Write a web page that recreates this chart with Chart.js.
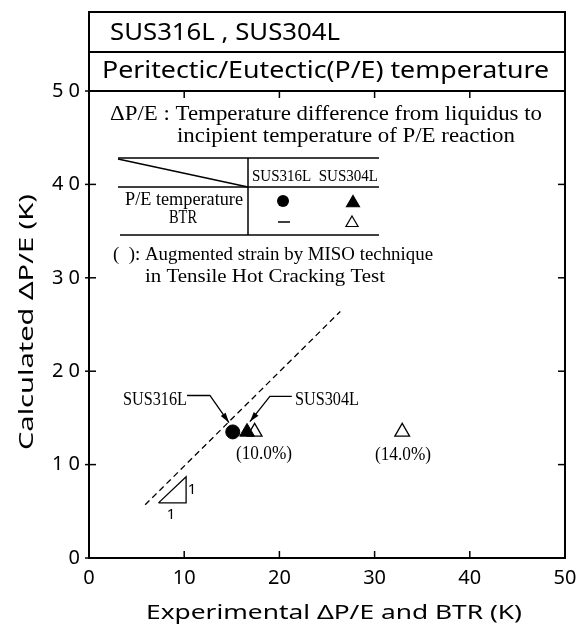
<!DOCTYPE html>
<html>
<head>
<meta charset="utf-8">
<script src="https://cdn.jsdelivr.net/npm/chart.js@4.4.0/dist/chart.umd.min.js"></script>
<style>
  html, body { margin: 0; padding: 0; background: #fff; }
  #wrap { width: 587px; height: 625px; }
</style>
</head>
<body>
<div id="wrap"><canvas id="chart" width="587" height="625"></canvas></div>
<script>
// axis ticks
const xTicks = [0, 10, 20, 30, 40, 50];
const yTicks = [0, 10, 20, 30, 40, 50];
const xTickLabels = ["0", "10", "20", "30", "40", "50"];
const yTickLabels = ["0", "1 0", "2 0", "3 0", "4 0", "5 0"];

// measured points (experimental, calculated)
const sus316lPEX = [15.1];
const sus316lPEY = [13.5];
const sus304lPEX = [16.6];
const sus304lPEY = [13.5];
const sus304lBTRX = [17.4, 32.9];
const sus304lBTRY = [13.5, 13.5];
const btrLabels = ["(10.0%)", "(14.0%)"];

// 1:1 guide line and slope triangle
const guideX = [5.9, 26.4];
const guideY = [5.7, 26.4];
const slopeX = [7.3, 10.2, 10.2, 7.3];
const slopeY = [5.9, 5.9, 8.7, 5.9];

// leader lines for the steel labels
const leader316X = [10.3, 12.7, 14.7];
const leader316Y = [17.4, 17.4, 14.5];
const leader304X = [21.3, 19.0, 16.9];
const leader304Y = [17.3, 17.3, 14.6];

const SANS = '"Noto Sans", sans-serif';
const SERIF = '"Liberation Serif", serif';

const zip = (xs, ys) => xs.map((x, i) => ({ x, y: ys[i] }));

// draw text squeezed/stretched to a given width (left x, middle y)
function fitText(ctx, text, x, y, width, font) {
  ctx.save();
  ctx.font = font;
  const w = ctx.measureText(text).width;
  ctx.translate(x, y);
  ctx.scale(width / w, 1);
  ctx.textAlign = "left";
  ctx.textBaseline = "middle";
  ctx.fillText(text, 0, 0);
  ctx.restore();
}

function line(ctx, x1, y1, x2, y2) {
  ctx.beginPath();
  ctx.moveTo(x1, y1);
  ctx.lineTo(x2, y2);
  ctx.stroke();
}

function triangle(ctx, x, y, r, filled) {
  ctx.beginPath();
  ctx.moveTo(x, y - r);
  ctx.lineTo(x + r * 0.866, y + r / 2);
  ctx.lineTo(x - r * 0.866, y + r / 2);
  ctx.closePath();
  ctx.fillStyle = filled ? "#000" : "#fff";
  ctx.fill();
  ctx.stroke();
}

function arrowHead(ctx, from, to) {
  const a = Math.atan2(to.y - from.y, to.x - from.x);
  const len = 10, half = 3;
  ctx.beginPath();
  ctx.moveTo(to.x, to.y);
  ctx.lineTo(to.x - len * Math.cos(a) + half * Math.sin(a), to.y - len * Math.sin(a) - half * Math.cos(a));
  ctx.lineTo(to.x - len * Math.cos(a) - half * Math.sin(a), to.y - len * Math.sin(a) + half * Math.cos(a));
  ctx.closePath();
  ctx.fill();
}

const paperFrame = {
  id: "paperFrame",
  beforeDraw(chart) {
    const ctx = chart.ctx;
    ctx.save();
    ctx.fillStyle = "#fff";
    ctx.fillRect(0, 0, chart.width, chart.height);
    ctx.restore();
  },
  afterDraw(chart) {
    const ctx = chart.ctx;
    const { left, right, top, bottom } = chart.chartArea;
    const xs = chart.scales.x, ys = chart.scales.y;
    ctx.save();
    ctx.strokeStyle = "#000";
    ctx.fillStyle = "#000";

    // frame + title box
    ctx.lineWidth = 2;
    ctx.strokeRect(left, top, right - left, bottom - top);
    ctx.strokeRect(left, 12, right - left, top - 12);
    line(ctx, left, 52, right, 52);

    // tick marks (inward on all sides, a bit outward on the left)
    ctx.lineWidth = 1.5;
    xTicks.forEach(v => {
      const px = xs.getPixelForValue(v);
      line(ctx, px, bottom, px, bottom - 7);
      line(ctx, px, top, px, top + 7);
    });
    yTicks.forEach(v => {
      const py = ys.getPixelForValue(v);
      line(ctx, left - 4, py, left + 7, py);
      line(ctx, right, py, right - 7, py);
    });

    // arrow heads on the leader lines
    [3, 4].forEach(i => {
      const pts = chart.getDatasetMeta(i).data;
      arrowHead(ctx, pts[pts.length - 2], pts[pts.length - 1]);
    });

    // titles
    fitText(ctx, "SUS316L , SUS304L", 110, 33, 230, `23px ${SANS}`);
    fitText(ctx, "Peritectic/Eutectic(P/E) temperature", 102, 71, 447, `23px ${SANS}`);
    fitText(ctx, "Experimental ΔP/E and BTR (K)", 146, 613, 376, `20px ${SANS}`);
    ctx.save();
    ctx.translate(27, 322);
    ctx.rotate(-Math.PI / 2);
    fitText(ctx, "Calculated ΔP/E (K)", -128, 0, 256, `20px ${SANS}`);
    ctx.restore();

    // definition note
    fitText(ctx, "ΔP/E : Temperature difference from liquidus to", 110, 115, 432, `20px ${SERIF}`);
    fitText(ctx, "incipient temperature of P/E reaction", 177, 137, 338, `20px ${SERIF}`);

    // symbol table
    ctx.lineWidth = 1.5;
    line(ctx, 118, 158, 379, 158);
    line(ctx, 118, 159, 248, 187);
    line(ctx, 248, 158, 248, 235);
    line(ctx, 118, 187, 379, 187);
    line(ctx, 120, 235, 379, 235);
    fitText(ctx, "SUS316L  SUS304L", 252, 177, 126, `17px ${SERIF}`);
    fitText(ctx, "P/E temperature", 125, 200, 118, `18px ${SERIF}`);
    fitText(ctx, "BTR", 169, 218, 28, `18px ${SERIF}`);
    ctx.beginPath();
    ctx.arc(283, 201, 6, 0, Math.PI * 2);
    ctx.fill();
    ctx.lineWidth = 1.2;
    triangle(ctx, 353, 203, 7.5, true);
    triangle(ctx, 352, 223, 7, false);
    ctx.fillStyle = "#000";
    ctx.lineWidth = 1.5;
    line(ctx, 278, 222, 290, 222);

    fitText(ctx, "(  ): Augmented strain by MISO technique", 113, 255, 320, `18px ${SERIF}`);
    fitText(ctx, "in Tensile Hot Cracking Test", 145, 277, 240, `18px ${SERIF}`);

    // point labels
    fitText(ctx, "SUS316L", 123, 400, 64, `18px ${SERIF}`);
    fitText(ctx, "SUS304L", 295, 400, 64, `18px ${SERIF}`);
    fitText(ctx, btrLabels[0], 236, 454, 56, `18px ${SERIF}`);
    fitText(ctx, btrLabels[1], 375, 455, 56, `18px ${SERIF}`);

    // slope triangle labels
    ctx.font = `15px ${SANS}`;
    ctx.textAlign = "center";
    ctx.textBaseline = "middle";
    ctx.fillText("1", 192, 490);
    ctx.fillText("1", 171, 515);
    ctx.restore();
  }
};

new Chart(document.getElementById("chart"), {
  type: "scatter",
  data: {
    datasets: [
      {
        label: "SUS316L P/E",
        data: zip(sus316lPEX, sus316lPEY),
        pointStyle: "circle",
        pointRadius: 7,
        backgroundColor: "#000",
        borderColor: "#000",
        borderWidth: 1
      },
      {
        label: "SUS304L P/E",
        data: zip(sus304lPEX, sus304lPEY),
        pointStyle: "triangle",
        pointRadius: 8.5,
        backgroundColor: "#000",
        borderColor: "#000",
        borderWidth: 1
      },
      {
        label: "SUS304L BTR",
        data: zip(sus304lBTRX, sus304lBTRY),
        pointStyle: "triangle",
        pointRadius: 8.5,
        backgroundColor: "#fff",
        borderColor: "#000",
        borderWidth: 1.3
      },
      {
        label: "leader 316L",
        data: zip(leader316X, leader316Y),
        showLine: true,
        pointRadius: 0,
        borderColor: "#000",
        borderWidth: 1.3
      },
      {
        label: "leader 304L",
        data: zip(leader304X, leader304Y),
        showLine: true,
        pointRadius: 0,
        borderColor: "#000",
        borderWidth: 1.3
      },
      {
        label: "1:1",
        data: zip(guideX, guideY),
        showLine: true,
        pointRadius: 0,
        borderColor: "#000",
        borderWidth: 1.3,
        borderDash: [6, 4]
      },
      {
        label: "slope",
        data: zip(slopeX, slopeY),
        showLine: true,
        pointRadius: 0,
        borderColor: "#000",
        borderWidth: 1.3
      }
    ]
  },
  options: {
    responsive: false,
    animation: false,
    layout: { padding: { top: 91, right: 22, left: 0, bottom: 0 } },
    plugins: {
      legend: { display: false },
      tooltip: { enabled: false }
    },
    scales: {
      x: {
        type: "linear",
        min: 0,
        max: 50,
        afterFit: (s) => { s.height = 67; },
        afterBuildTicks: (s) => { s.ticks = xTicks.map(v => ({ value: v })); },
        grid: { display: false, drawTicks: false },
        border: { display: false },
        ticks: {
          color: "#000",
          padding: 8,
          maxRotation: 0,
          font: { family: SANS, size: 20 },
          callback: (v) => xTickLabels[xTicks.indexOf(v)]
        }
      },
      y: {
        type: "linear",
        min: 0,
        max: 50,
        afterFit: (s) => { s.width = 89; },
        afterBuildTicks: (s) => { s.ticks = yTicks.map(v => ({ value: v })); },
        grid: { display: false, drawTicks: false },
        border: { display: false },
        ticks: {
          color: "#000",
          padding: 9,
          font: { family: SANS, size: 20 },
          callback: (v) => yTickLabels[yTicks.indexOf(v)]
        }
      }
    }
  },
  plugins: [paperFrame]
});
</script>
</body>
</html>
